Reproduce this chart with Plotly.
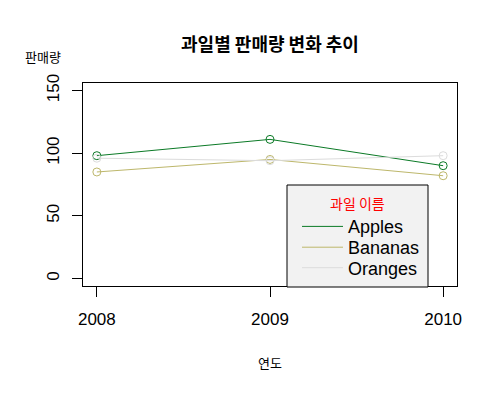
import plotly.graph_objects as go

years = [2008, 2009, 2010]
apples = [98, 111, 90]
bananas = [85, 95, 82]
oranges = [96, 94, 98]

series_names = ["Apples", "Bananas", "Oranges"]
series_colors = ["#0b7a26", "#bdb76b", "#dcdcdc"]

FONT = "Liberation Sans, Arial, Noto Sans CJK KR, sans-serif"
KFONT = "Noto Sans CJK KR, sans-serif"

# the page puts an 8px body margin around the figure, so work in page pixels
# and shift everything by that amount
OFF = 8
PL, PR, PT, PB = 83, 457, 83, 286   # plot box in page pixels


def px(x):
    return (x - PL) / (PR - PL)


def py(y):
    return (PB - y) / (PB - PT)


fig = go.Figure()

# data lines with open circle markers
for name, vals, col in zip(series_names, [apples, bananas, oranges], series_colors):
    fig.add_trace(go.Scatter(
        x=years, y=vals, mode="lines+markers", name=name,
        line=dict(color=col, width=1),
        marker=dict(symbol="circle-open", size=8, color=col, line=dict(width=1)),
        showlegend=False,
    ))

# legend entries as plain lines, one small legend each so the spacing can be set
legend_ids = ["legend", "legend2", "legend3"]
legend_rows = [226.7, 247.5, 268]
for name, col, lid in zip(series_names, series_colors, legend_ids):
    fig.add_trace(go.Scatter(
        x=[None], y=[None], mode="lines", name=name, legend=lid,
        line=dict(color=col, width=1),
    ))

legend_common = dict(
    xanchor="left", yanchor="middle", x=px(297),
    bgcolor="rgba(0,0,0,0)", borderwidth=0,
    font=dict(family=FONT, size=18, color="black"),
    itemwidth=41,
)

layout_legends = {}
for lid, row in zip(legend_ids, legend_rows):
    layout_legends[lid] = dict(legend_common, y=py(row))

fig.update_layout(
    width=500 - OFF, height=409 - OFF,
    margin=dict(l=PL - OFF, r=500 - PR, t=PT - OFF, b=409 - PB),
    paper_bgcolor="white", plot_bgcolor="white",
    font=dict(family=FONT, color="black"),
    title=dict(text="<b>과일별 판매량 변화 추이</b>", x=(270 - OFF) / (500 - OFF), xanchor="center",
               y=1 - (45 - OFF) / (409 - OFF), yanchor="middle",
               font=dict(family=KFONT, size=18, color="black")),
    xaxis=dict(
        range=[2007.92, 2010.08], tickvals=years, ticktext=[str(y) for y in years],
        showgrid=False, zeroline=False,
        showline=True, mirror=True, linecolor="black", linewidth=1,
        ticks="outside", ticklen=10, tickcolor="black",
        tickfont=dict(size=17), ticklabelstandoff=8,
    ),
    yaxis=dict(
        range=[-6, 156], tickvals=[0, 50, 100, 150],
        showgrid=False, zeroline=False,
        showline=True, mirror=True, linecolor="black", linewidth=1,
        ticks="outside", ticklen=10, tickcolor="black",
        tickfont=dict(size=17), tickangle=-90, ticklabelstandoff=6,
    ),
    shapes=[
        # legend box (R legend with bg = gray95)
        dict(type="rect", xref="paper", yref="paper", layer="above",
             x0=px(287), x1=px(428), y0=py(287), y1=py(185),
             fillcolor="#f2f2f2", line=dict(color="black", width=1)),
    ],
    annotations=[
        dict(text="과일 이름", xref="paper", yref="paper",
             x=px(357), y=py(203), xanchor="center", yanchor="middle",
             showarrow=False, font=dict(family=KFONT, size=14, color="red")),
        dict(text="판매량", xref="paper", yref="paper",
             x=px(43), y=py(57), xanchor="center", yanchor="middle",
             showarrow=False, font=dict(family=KFONT, size=13)),
        dict(text="연도", xref="paper", yref="paper",
             x=px(270), y=py(362), xanchor="center", yanchor="middle",
             showarrow=False, font=dict(family=KFONT, size=13)),
    ],
    **layout_legends,
)

fig.write_html("out.html")
